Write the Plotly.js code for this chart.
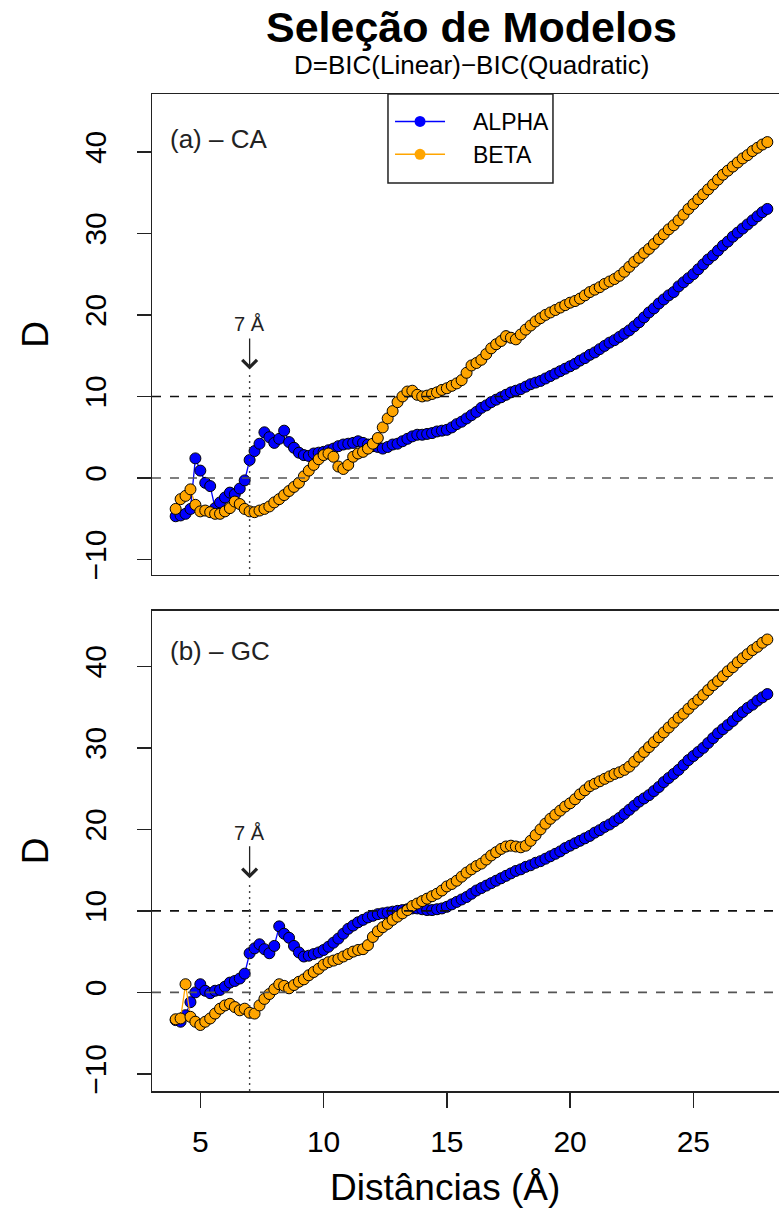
<!DOCTYPE html>
<html>
<head>
<meta charset="utf-8">
<script src="https://cdn.plot.ly/plotly-3.0.1.min.js"></script>
<style>
html,body{margin:0;padding:0;overflow:hidden;background:#fff;}
#plot{width:800px;height:1231px;}
</style>
</head>
<body>
<div id="plot"></div>
<script>
// Distances (Å)
var distances = [4,4.2,4.4,4.6,4.8,5,5.2,5.4,5.6,5.8,
  6,6.2,6.4,6.6,6.8,7,7.2,7.4,7.6,7.8,
  8,8.2,8.4,8.6,8.8,9,9.2,9.4,9.6,9.8,
  10,10.2,10.4,10.6,10.8,11,11.2,11.4,11.6,11.8,
  12,12.2,12.4,12.6,12.8,13,13.2,13.4,13.6,13.8,
  14,14.2,14.4,14.6,14.8,15,15.2,15.4,15.6,15.8,
  16,16.2,16.4,16.6,16.8,17,17.2,17.4,17.6,17.8,
  18,18.2,18.4,18.6,18.8,19,19.2,19.4,19.6,19.8,
  20,20.2,20.4,20.6,20.8,21,21.2,21.4,21.6,21.8,
  22,22.2,22.4,22.6,22.8,23,23.2,23.4,23.6,23.8,
  24,24.2,24.4,24.6,24.8,25,25.2,25.4,25.6,25.8,
  26,26.2,26.4,26.6,26.8,27,27.2,27.4,27.6,27.8,
  28];

// Panel (a) - CA
var alphaCA = [-4.7,-4.6,-4.4,-3.8,2.4,0.9,-0.6,-1.0,-3.7,-3.0,
  -2.4,-1.8,-2.0,-1.3,-0.3,2.2,3.3,4.2,5.6,5.0,
  4.3,4.8,5.8,4.4,3.7,3.1,2.8,2.7,3.0,3.1,
  3.2,3.4,3.6,3.9,4.1,4.2,4.3,4.5,4.3,4.1,
  3.9,3.8,3.6,3.8,4.1,4.2,4.5,4.8,5.1,5.3,
  5.3,5.4,5.5,5.7,5.8,5.9,6.2,6.6,6.9,7.3,
  7.7,8.1,8.6,8.9,9.3,9.6,9.9,10.2,10.5,10.7,
  10.9,11.2,11.5,11.7,11.9,12.2,12.5,12.8,13.1,13.4,
  13.7,14.0,14.4,14.7,15.1,15.4,15.8,16.2,16.6,16.9,
  17.3,17.7,18.1,18.6,19.1,19.7,20.3,20.8,21.4,21.9,
  22.4,22.8,23.5,24.0,24.5,25.0,25.6,26.2,26.8,27.3,
  27.9,28.5,29.0,29.6,30.1,30.6,31.1,31.6,32.1,32.6,
  33.0];
var betaCA = [-3.8,-2.6,-2.2,-1.4,-3.3,-4.1,-4.0,-4.2,-4.4,-4.4,
  -4.1,-3.7,-2.9,-3.2,-3.8,-4.1,-4.2,-4.0,-3.8,-3.5,
  -3.0,-2.6,-2.1,-1.6,-1.1,-0.6,0.2,0.9,1.6,2.3,
  2.8,3.0,2.6,1.4,1.1,1.6,2.6,3.0,3.2,3.6,
  4.2,4.9,6.2,7.3,8.2,9.3,10.0,10.6,10.7,10.2,
  10.0,10.1,10.3,10.5,10.8,11.0,11.3,11.6,12.0,12.9,
  13.8,14.1,14.5,15.2,15.9,16.4,16.8,17.4,17.2,17.0,
  17.6,18.2,18.7,19.2,19.6,20.0,20.3,20.6,20.9,21.2,
  21.5,21.7,22.0,22.4,22.8,23.1,23.4,23.8,24.1,24.4,
  24.8,25.3,25.9,26.5,27.0,27.6,28.1,28.7,29.3,29.9,
  30.5,31.0,31.6,32.3,33.0,33.6,34.2,34.8,35.4,36.0,
  36.6,37.2,37.7,38.2,38.7,39.2,39.6,40.1,40.5,40.9,
  41.2];

// Panel (b) - GC
var alphaGC = [-3.4,-3.6,-2.8,-1.2,0.0,1.0,0.2,-0.1,0.2,0.3,
  0.7,1.2,1.4,1.7,2.3,4.8,5.4,5.9,5.3,4.8,
  5.7,8.1,7.2,6.7,5.7,4.9,4.4,4.5,4.7,4.9,
  5.2,5.6,6.1,6.6,7.2,7.8,8.2,8.6,8.9,9.2,
  9.4,9.6,9.7,9.8,9.9,10.0,10.1,10.2,10.3,10.3,
  10.2,10.1,10.1,10.2,10.3,10.5,10.8,11.1,11.4,11.7,
  12.1,12.5,12.8,13.1,13.4,13.7,14.0,14.3,14.6,14.9,
  15.1,15.4,15.6,15.9,16.1,16.4,16.7,17.0,17.3,17.7,
  18.0,18.3,18.6,18.9,19.2,19.6,19.9,20.3,20.6,21.0,
  21.4,21.9,22.4,22.9,23.4,23.8,24.2,24.7,25.2,25.8,
  26.3,26.8,27.3,27.9,28.5,29.0,29.5,30.0,30.6,31.2,
  31.8,32.3,32.8,33.3,33.9,34.4,34.9,35.3,35.8,36.2,
  36.6];
var betaGC = [-3.3,-3.2,1.0,-3.0,-3.6,-4.0,-3.6,-3.2,-2.6,-2.0,
  -1.6,-1.4,-1.8,-2.2,-2.0,-2.5,-2.6,-1.6,-0.8,-0.2,
  0.4,1.0,0.8,0.5,0.9,1.3,1.6,2.1,2.5,2.9,
  3.4,3.7,3.9,4.1,4.4,4.7,5.0,5.2,5.3,5.8,
  6.8,7.5,8.0,8.4,8.9,9.3,9.7,10.1,10.6,10.9,
  11.2,11.5,11.8,12.1,12.5,13.0,13.3,13.7,14.2,14.7,
  15.1,15.5,15.8,16.3,16.8,17.2,17.6,17.9,18.0,17.9,
  17.8,18.0,18.6,19.3,20.0,20.7,21.3,21.8,22.3,22.8,
  23.2,23.7,24.3,24.8,25.3,25.6,25.9,26.2,26.5,26.8,
  27.0,27.3,27.7,28.3,28.9,29.5,30.1,30.7,31.3,31.9,
  32.5,33.1,33.7,34.2,34.8,35.4,35.9,36.5,37.1,37.7,
  38.2,38.8,39.4,39.9,40.5,41.0,41.5,42.0,42.4,42.9,
  43.3];

var seriesNames = ['ALPHA', 'BETA'];
var seriesColors = ['#0000FF', '#FFA500'];
var xTicks = [5, 10, 15, 20, 25];
var yTicks = [-10, 0, 10, 20, 30, 40];
var panelLabels = ['(a) – CA', '(b) – GC'];
var refLines = [0, 10];
var markDistance = 7;
// annotation heights per panel: [text, arrow start, arrow tip, dotted top]
var markLevels = [[18.9, 17.3, 13.3, 12.7], [19.5, 18.1, 14.0, 13.2]];

var FONT = 'Liberation Sans, Arial, Helvetica, sans-serif';
var INK = '#222';

function dataTrace(y, i, xa, ya) {
  return {
    x: distances, y: y, type: 'scatter', mode: 'lines+markers',
    xaxis: xa, yaxis: ya, showlegend: false, name: seriesNames[i],
    line: {color: seriesColors[i], width: 1.3},
    marker: {color: seriesColors[i], size: 11, line: {color: '#000', width: 1}}
  };
}
function legendTrace(i) {
  return {
    x: [null], y: [null], type: 'scatter', mode: 'lines+markers',
    xaxis: 'x', yaxis: 'y', name: '\u2002\u2002' + seriesNames[i], showlegend: true,
    line: {color: seriesColors[i], width: 1.5},
    marker: {color: seriesColors[i], size: 11}
  };
}

var data = [
  dataTrace(alphaCA, 0, 'x', 'y'),
  dataTrace(betaCA, 1, 'x', 'y'),
  dataTrace(alphaGC, 0, 'x2', 'y2'),
  dataTrace(betaGC, 1, 'x2', 'y2'),
  legendTrace(0),
  legendTrace(1)
];

var xRange = [3.04, 28.96];
var yRanges = [[-11.9, 47.1], [-12.1, 46.8]];
function yAxis(domain, range, anchor) {
  return {
    domain: domain, anchor: anchor, range: range, tickvals: yTicks,
    ticks: 'outside', ticklen: 14, tickwidth: 1.5, tickcolor: INK,
    tickangle: -90, tickfont: {size: 30, family: FONT, color: '#000'},
    ticklabelstandoff: 19,
    showgrid: false, zeroline: false, showline: true, mirror: true,
    linecolor: INK, linewidth: 1.5,
    title: {text: 'D', font: {size: 37, family: FONT, color: '#000'}, standoff: 18}
  };
}

var shapes = [];
var annotations = [];
[['x', 'y'], ['x2', 'y2']].forEach(function (ax, k) {
  var lv = markLevels[k];
  refLines.forEach(function (v) {
    shapes.push({type: 'line', xref: ax[0] + ' domain', x0: 0, x1: 1, yref: ax[1], y0: v, y1: v,
      line: {color: v === 0 ? '#555' : '#111', width: 1.6, dash: '9px,9px'}});
  });
  shapes.push({type: 'line', xref: ax[0], x0: markDistance, x1: markDistance,
    yref: ax[1], y0: yRanges[k][0], y1: lv[3],
    line: {color: '#444', width: 1.4, dash: '2px,4px'}});
  annotations.push({xref: ax[0], yref: ax[1], x: markDistance, y: lv[0], text: '7 Å', showarrow: false,
    font: {size: 20, family: FONT, color: '#222'}, xanchor: 'center', yanchor: 'middle'});
  annotations.push({xref: ax[0], yref: ax[1], x: markDistance, y: lv[2], axref: ax[0], ayref: ax[1],
    ax: markDistance, ay: lv[1], text: '', showarrow: true, arrowhead: 4, arrowsize: 2.2,
    arrowwidth: 1.3, arrowcolor: '#222', standoff: 0, startstandoff: 0});
  annotations.push({xref: 'paper', yref: ax[1] + ' domain', x: 0.025, y: k === 0 ? 0.907 : 0.917,
    text: panelLabels[k], showarrow: false, xanchor: 'left', yanchor: 'middle',
    font: {size: 26, family: FONT, color: '#222'}});
});

// legend frame
shapes.push({type: 'rect', xref: 'paper', yref: 'paper', x0: 0.3693, x1: 0.6275, y0: 0.9107, y1: 1.0,
  line: {color: INK, width: 1.5}, fillcolor: '#fff', layer: 'above'});

annotations.push({xref: 'paper', yref: 'paper', x: 0.5, y: 1.0291, text: 'D=BIC(Linear)−BIC(Quadratic)',
  showarrow: false, xanchor: 'center', yanchor: 'middle', font: {size: 26, family: FONT, color: '#000'}});
annotations.push({xref: 'paper', yref: 'paper', x: 0.4585, y: -0.097, text: 'Distâncias (Å)',
  showarrow: false, xanchor: 'center', yanchor: 'middle', font: {size: 37, family: FONT, color: '#000'}});

var layout = {
  width: 800, height: 1231,
  margin: {l: 152, r: 9, t: 94, b: 140},
  paper_bgcolor: '#fff', plot_bgcolor: '#fff',
  font: {family: FONT, color: '#000'},
  title: {text: '<b>Seleção de Modelos</b>', font: {size: 43, family: FONT, color: '#000'},
    xref: 'paper', x: 0.5, xanchor: 'center', yref: 'container', y: 1 - 27 / 1231, yanchor: 'middle'},
  showlegend: true,
  legend: {x: 0.3725, y: 0.994, xanchor: 'left', yanchor: 'top', bgcolor: 'rgba(0,0,0,0)',
    borderwidth: 0, font: {size: 23, family: FONT, color: '#000'}, itemwidth: 50, tracegroupgap: 0},
  xaxis: {domain: [0, 1], anchor: 'y', range: xRange, showticklabels: false, ticks: '',
    showgrid: false, zeroline: false, showline: true, mirror: true, linecolor: INK, linewidth: 1.5},
  yaxis: yAxis([0.5176, 1], yRanges[0], 'x'),
  xaxis2: {domain: [0, 1], anchor: 'y2', range: xRange, tickvals: xTicks, ticks: 'outside',
    ticklen: 15, tickwidth: 1.5, tickcolor: INK, tickfont: {size: 30, family: FONT, color: '#000'},
    ticklabelstandoff: 8,
    showgrid: false, zeroline: false, showline: true, mirror: true, linecolor: INK, linewidth: 1.5},
  yaxis2: yAxis([0, 0.4815], yRanges[1], 'x2'),
  shapes: shapes,
  annotations: annotations
};

Plotly.newPlot('plot', data, layout, {displayModeBar: false, staticPlot: true});
</script>
</body>
</html>
